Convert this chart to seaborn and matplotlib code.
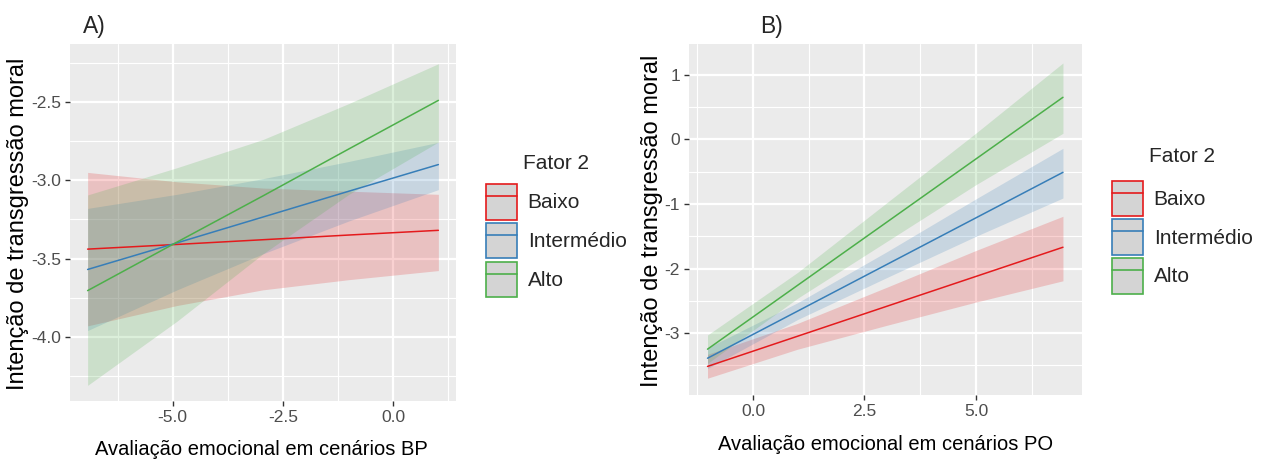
import numpy as np
import pandas as pd
import matplotlib
matplotlib.use("Agg")
import matplotlib.pyplot as plt
import seaborn as sns
from matplotlib.patches import Patch
from matplotlib.lines import Line2D
from matplotlib.ticker import FixedLocator

# ---------------- data ----------------
groups = ["Baixo", "Intermédio", "Alto"]
colors = ["#E41A1C", "#377EB8", "#4DAF4A"]

# Panel A (BP)
a_x = [-6.93, -4.9, -2.95, -1.0, 1.03]
a_fit_baixo = [-3.44, -3.41, -3.38, -3.35, -3.32]
a_low_baixo = [-3.93, -3.80, -3.70, -3.635, -3.577]
a_up_baixo = [-2.95, -3.01, -3.05, -3.07, -3.09]
a_fit_inter = [-3.57, -3.40, -3.235, -3.07, -2.90]
a_low_inter = [-3.96, -3.70, -3.47, -3.26, -3.06]
a_up_inter = [-3.18, -3.09, -2.99, -2.88, -2.758]
a_fit_alto = [-3.705, -3.395, -3.10, -2.80, -2.49]
a_low_alto = [-4.31, -3.90, -3.47, -3.09, -2.756]
a_up_alto = [-3.094, -2.92, -2.74, -2.51, -2.256]

# Panel B (PO)
b_x = [-1.02, 1.0, 3.0, 5.0, 6.95]
b_fit_baixo = [-3.517, -3.049, -2.585, -2.122, -1.67]
b_low_baixo = [-3.70, -3.25, -2.88, -2.52, -2.19]
b_up_baixo = [-3.33, -2.85, -2.29, -1.72, -1.19]
b_fit_inter = [-3.39, -2.66, -1.937, -1.214, -0.509]
b_low_inter = [-3.55, -2.79, -2.14, -1.50, -0.907]
b_up_inter = [-3.23, -2.53, -1.74, -0.92, -0.137]
b_fit_alto = [-3.25, -2.26, -1.281, -0.301, 0.654]
b_low_alto = [-3.47, -2.46, -1.58, -0.70, 0.096]
b_up_alto = [-3.03, -2.06, -0.98, 0.10, 1.186]

a_xticks = [-5.0, -2.5, 0.0]
a_xticklabels = ["-5.0", "-2.5", "0.0"]
a_yticks = [-4.0, -3.5, -3.0, -2.5]
a_yticklabels = ["-4.0", "-3.5", "-3.0", "-2.5"]
b_xticks = [0.0, 2.5, 5.0]
b_xticklabels = ["0.0", "2.5", "5.0"]
b_yticks = [-3, -2, -1, 0, 1]
b_yticklabels = ["-3", "-2", "-1", "0", "1"]

ylabel = "Intenção de transgressão moral"
a_xlabel = "Avaliação emocional em cenários BP"
b_xlabel = "Avaliação emocional em cenários PO"
legend_title = "Fator 2"


def long_df(x, fits, lows, ups):
    rows = []
    for g, f, lo, up in zip(groups, fits, lows, ups):
        for xi, fi, li, ui in zip(x, f, lo, up):
            rows.append({"x": xi, "fit": fi, "lower": li, "upper": ui, "Fator 2": g})
    return pd.DataFrame(rows)


dfa = long_df(a_x, [a_fit_baixo, a_fit_inter, a_fit_alto],
              [a_low_baixo, a_low_inter, a_low_alto],
              [a_up_baixo, a_up_inter, a_up_alto])
dfb = long_df(b_x, [b_fit_baixo, b_fit_inter, b_fit_alto],
              [b_low_baixo, b_low_inter, b_low_alto],
              [b_up_baixo, b_up_inter, b_up_alto])

# ---------------- style ----------------
sns.set_theme(style="white")
plt.rcParams["font.family"] = ["Liberation Sans", "DejaVu Sans"]

W, H = 1263, 466
fig = plt.figure(figsize=(W / 100, H / 100), dpi=100)
fig.patch.set_facecolor("white")

palette = dict(zip(groups, colors))


def px_axes(l, r, t, b):
    return fig.add_axes([l / W, 1 - b / H, (r - l) / W, (b - t) / H])


def style_axes(ax, xlim, ylim, xt, xtl, yt, ytl, xminor, yminor):
    ax.set_facecolor("#EBEBEB")
    for s in ax.spines.values():
        s.set_visible(False)
    ax.set_xlim(*xlim)
    ax.set_ylim(*ylim)
    ax.set_xticks(xt)
    ax.set_xticklabels(xtl)
    ax.set_yticks(yt)
    ax.set_yticklabels(ytl)
    ax.xaxis.set_minor_locator(FixedLocator(xminor))
    ax.yaxis.set_minor_locator(FixedLocator(yminor))
    ax.grid(which="major", color="white", lw=1.6)
    ax.grid(which="minor", color="white", lw=0.8)
    ax.set_axisbelow(True)
    ax.tick_params(which="major", length=3.5, width=1.0, color="#333333",
                   labelcolor="#4D4D4D", labelsize=12.5, pad=3,
                   bottom=True, left=True)
    ax.tick_params(which="minor", length=0)


def draw_panel(ax, df):
    for g in groups:
        sub = df[df["Fator 2"] == g]
        ax.fill_between(sub["x"], sub["lower"], sub["upper"],
                        color=palette[g], alpha=0.2, lw=0)
    sns.lineplot(data=df, x="x", y="fit", hue="Fator 2", hue_order=groups,
                 palette=palette, ax=ax, legend=False, lw=1.1,
                 errorbar=None, sort=True)


def add_legend(ax, x0, y0, sep):
    handles = [(Patch(facecolor="#D4D4D4", edgecolor=c, lw=1.2),
                Line2D([], [], color=c, lw=1.2)) for c in colors]
    leg = ax.legend(handles, groups, title=legend_title,
                    loc="upper left", bbox_to_anchor=(x0 / W, 1 - y0 / H),
                    bbox_transform=fig.transFigure, frameon=False,
                    fontsize=15, title_fontsize=15, borderpad=0,
                    borderaxespad=0, handlelength=1.5, handleheight=2.25,
                    labelspacing=0.15, handletextpad=0.5)
    leg._legend_box.sep = sep
    return leg


# Panel A
axA = px_axes(70, 456, 44, 401)
draw_panel(axA, dfa)
style_axes(axA, (-7.33, 1.43), (-4.41, -2.13),
           a_xticks, a_xticklabels, a_yticks, a_yticklabels,
           [-6.25, -3.75, -1.25, 1.25], [-4.25, -3.75, -3.25, -2.75, -2.25])
axA.set_xlabel(a_xlabel, fontsize=14.5, color="black")
axA.set_ylabel(ylabel, fontsize=17, color="black")
axA.xaxis.label.set_va("center")
axA.xaxis.set_label_coords(0.497, -0.137)
axA.yaxis.label.set_va("center")
axA.yaxis.set_label_coords(-0.135, 0.496)
add_legend(axA, 486, 154, 8)

# Panel B
axB = px_axes(689, 1082, 44, 395)
draw_panel(axB, dfb)
style_axes(axB, (-1.435, 7.377), (-3.96, 1.48),
           b_xticks, b_xticklabels, b_yticks, b_yticklabels,
           [-1.25, 1.25, 3.75, 6.25], [-3.5, -2.5, -1.5, -0.5, 0.5])
axB.set_xlabel(b_xlabel, fontsize=14.5, color="black")
axB.set_ylabel(ylabel, fontsize=17, color="black")
axB.xaxis.label.set_va("center")
axB.xaxis.set_label_coords(0.499, -0.142)
axB.yaxis.label.set_va("center")
axB.yaxis.set_label_coords(-0.094, 0.496)
add_legend(axB, 1112, 147, 10.5)

fig.text(83 / W, 1 - 33 / H, "A)", fontsize=16.5, va="baseline", ha="left")
fig.text(760 / W, 1 - 33 / H, "B)", fontsize=16.5, va="baseline", ha="left")

fig.savefig("out.png", dpi=100)
